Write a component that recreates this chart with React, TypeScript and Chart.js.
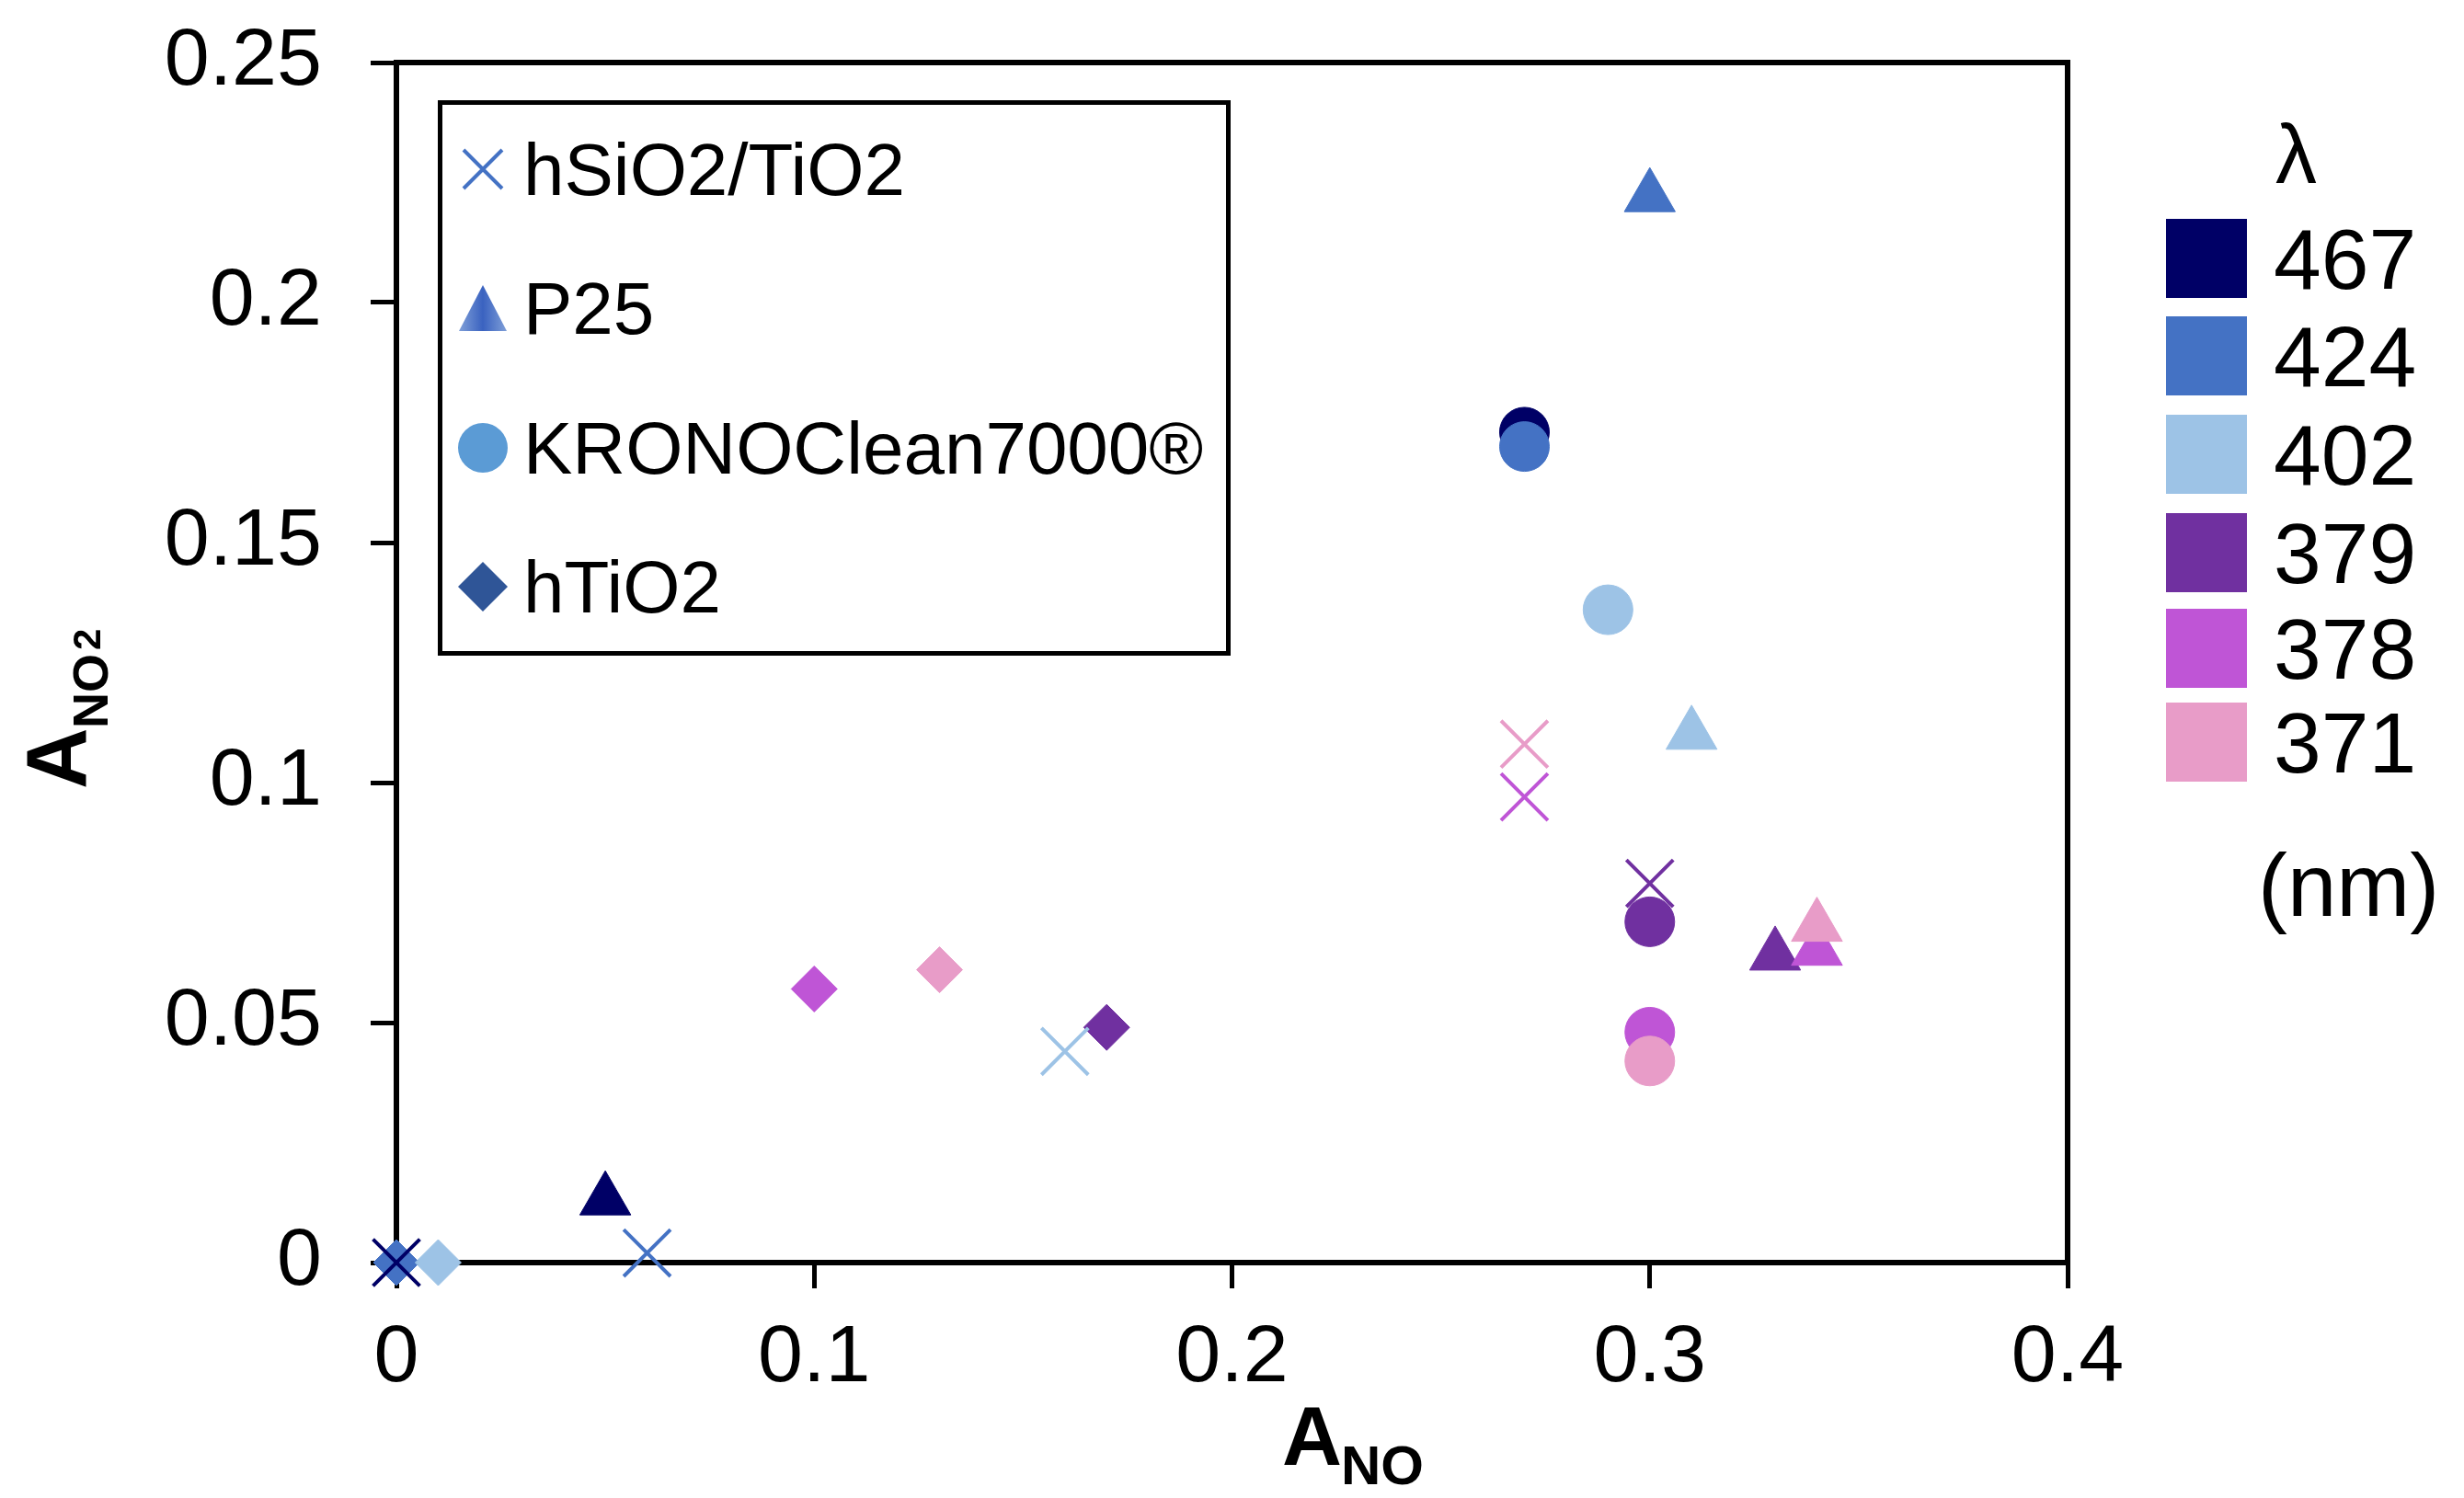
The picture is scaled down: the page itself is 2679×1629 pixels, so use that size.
import { useEffect, useRef } from "react";
import { Chart, registerables } from "chart.js";

Chart.register(...registerables);

const W = 2679;
const H = 1629;
const FONT = "'Liberation Sans', Arial, sans-serif";

// wavelengths (nm) and their colours
const wavelengths = ["467", "424", "402", "379", "378", "371"];
const wavelengthColors = ["#000066", "#4472c4", "#9dc3e6", "#7030a0", "#bf55d6", "#e89cc8"];

// materials, one value per wavelength in the order above
const materials = ["hSiO2/TiO2", "P25", "KRONOClean7000®", "hTiO2"];
const hSiO2TiO2X = [0, 0.06, 0.16, 0.3, 0.27, 0.27];
const hSiO2TiO2Y = [0, 0.002, 0.044, 0.079, 0.097, 0.108];
const p25X = [0.05, 0.3, 0.31, 0.33, 0.34, 0.34];
const p25Y = [0.013, 0.222, 0.11, 0.064, 0.065, 0.07];
const kronoX = [0.27, 0.27, 0.29, 0.3, 0.3, 0.3];
const kronoY = [0.173, 0.17, 0.136, 0.071, 0.048, 0.042];
const hTiO2X = [0, 0, 0.01, 0.17, 0.1, 0.13];
const hTiO2Y = [0, 0, 0, 0.049, 0.057, 0.061];

const xTicks = [0, 0.1, 0.2, 0.3, 0.4];
const yTicks = [0, 0.05, 0.1, 0.15, 0.2, 0.25];

const toPoints = (xs: number[], ys: number[]) => xs.map((x, i) => ({ x, y: ys[i] }));

const plotFrame = {
  id: "plotFrame",
  beforeDatasetsDraw(chart: any) {
    const { ctx, chartArea: a } = chart;
    ctx.save();
    ctx.strokeStyle = "#000";
    ctx.lineWidth = 6;
    ctx.beginPath();
    ctx.moveTo(a.left, a.top);
    ctx.lineTo(a.right, a.top);
    ctx.lineTo(a.right, a.bottom + 3);
    ctx.stroke();
    ctx.restore();
  },
};

function Text({ left, center, size, children, bold = false }: any) {
  return (
    <div
      style={{
        position: "absolute",
        left,
        top: center - 0.4885 * size,
        fontFamily: FONT,
        fontSize: size,
        lineHeight: `${size}px`,
        fontWeight: bold ? "bold" : "normal",
        whiteSpace: "nowrap",
        color: "#000",
      }}
    >
      {children}
    </div>
  );
}

const legendIcons = [
  <svg width="52" height="52">
    <path d="M5 5 L47 47 M47 5 L5 47" stroke="#4472c4" strokeWidth="4" />
  </svg>,
  <svg width="54" height="52">
    <defs>
      <linearGradient id="p25grad" x1="0" x2="1" y1="0" y2="0">
        <stop offset="0" stopColor="#7f9fd8" />
        <stop offset="0.5" stopColor="#3a62c0" />
        <stop offset="1" stopColor="#7f9fd8" />
      </linearGradient>
    </defs>
    <polygon points="27,1 53,51 1,51" fill="url(#p25grad)" />
  </svg>,
  <svg width="54" height="54">
    <circle cx="27" cy="27" r="27" fill="#5b9bd5" />
  </svg>,
  <svg width="54" height="54">
    <polygon points="27,0 54,27 27,54 0,27" fill="#2f5597" />
  </svg>,
];
const legendRows = [184, 335, 487, 638];
const lambdaRows = [281, 387, 494, 601, 705, 807];

export default function App() {
  const canvasRef = useRef<HTMLCanvasElement | null>(null);

  useEffect(() => {
    if (!canvasRef.current) {
      return;
    }

    const tickFont = { family: FONT, size: 88 };
    const grid = {
      drawOnChartArea: false,
      drawTicks: true,
      tickLength: 28,
      tickWidth: 5,
      tickColor: "#000",
      color: "#000",
    };

    const chart = new Chart(canvasRef.current, {
      type: "scatter",
      data: {
        datasets: [
          {
            label: materials[0],
            data: toPoints(hSiO2TiO2X, hSiO2TiO2Y),
            pointStyle: "crossRot",
            pointRadius: 36,
            pointBorderWidth: 4,
            pointBorderColor: wavelengthColors,
            pointBackgroundColor: wavelengthColors,
            clip: false,
          },
          {
            label: materials[1],
            data: toPoints(p25X, p25Y),
            pointStyle: "triangle",
            pointRadius: 32,
            pointBorderWidth: 1,
            pointBorderColor: wavelengthColors,
            pointBackgroundColor: wavelengthColors,
            clip: false,
          },
          {
            label: materials[2],
            data: toPoints(kronoX, kronoY),
            pointStyle: "circle",
            pointRadius: 27,
            pointBorderWidth: 1,
            pointBorderColor: wavelengthColors,
            pointBackgroundColor: wavelengthColors,
            clip: false,
          },
          {
            label: materials[3],
            data: toPoints(hTiO2X, hTiO2Y),
            pointStyle: "rectRot",
            pointRadius: 25,
            pointBorderWidth: 1,
            pointBorderColor: wavelengthColors,
            pointBackgroundColor: wavelengthColors,
            clip: false,
          },
        ],
      },
      options: {
        animation: false,
        responsive: false,
        devicePixelRatio: 1,
        layout: { padding: { top: 68, right: W - 2248, left: 0, bottom: 0 } },
        plugins: {
          legend: { display: false },
          tooltip: { enabled: false },
        },
        scales: {
          x: {
            type: "linear",
            min: 0,
            max: 0.4,
            afterFit: (scale: any) => {
              scale.height = H - 1373;
              scale.paddingLeft = 0;
              scale.paddingRight = 0;
            },
            afterBuildTicks: (scale: any) => {
              scale.ticks = xTicks.map((value) => ({ value }));
            },
            ticks: {
              font: tickFont,
              color: "#000",
              padding: 24,
              callback: (v: any) => String(v),
            },
            grid,
            border: { display: true, color: "#000", width: 6 },
          },
          y: {
            type: "linear",
            min: 0,
            max: 0.25,
            afterFit: (scale: any) => {
              scale.width = 431;
              scale.paddingTop = 0;
              scale.paddingBottom = 0;
            },
            afterBuildTicks: (scale: any) => {
              scale.ticks = yTicks.map((value) => ({ value }));
            },
            ticks: {
              font: tickFont,
              color: "#000",
              padding: 53,
              callback: (v: any) => String(v),
            },
            grid,
            border: { display: true, color: "#000", width: 6 },
          },
        },
      },
      plugins: [plotFrame],
    });

    return () => {
      chart.destroy();
    };
  }, []);

  return (
    <div
      style={{
        position: "fixed",
        left: 0,
        top: 0,
        width: W,
        height: H,
        background: "#fff",
        overflow: "hidden",
      }}
    >
      <canvas
        ref={canvasRef}
        width={W}
        height={H}
        style={{ position: "absolute", left: 0, top: 0, width: W, height: H }}
      ></canvas>

      {/* legend inside the plot */}
      <div
        style={{
          position: "absolute",
          left: 476,
          top: 109,
          width: 862,
          height: 604,
          border: "5px solid #000",
          boxSizing: "border-box",
          background: "#fff",
        }}
      ></div>
      {materials.map((m, i) => (
        <div key={m}>
          <div
            style={{
              position: "absolute",
              left: 525 - 27,
              top: legendRows[i] - 27,
              width: 54,
              height: 54,
              display: "flex",
              alignItems: "center",
              justifyContent: "center",
            }}
          >
            {legendIcons[i]}
          </div>
          <Text left={569} center={legendRows[i]} size={80}>
            {m}
          </Text>
        </div>
      ))}

      {/* wavelength key */}
      <Text left={2474} center={167} size={90}>
        λ
      </Text>
      {wavelengths.map((w, i) => (
        <div key={w}>
          <div
            style={{
              position: "absolute",
              left: 2355,
              top: lambdaRows[i] - 43,
              width: 88,
              height: 86,
              background: wavelengthColors[i],
            }}
          ></div>
          <Text left={2472} center={lambdaRows[i]} size={93}>
            {w}
          </Text>
        </div>
      ))}
      <Text left={2455} center={962} size={96}>
        (nm)
      </Text>

      {/* x axis title */}
      <div
        style={{
          position: "absolute",
          left: 1394,
          top: 1593 - 0.8465 * 90,
          fontFamily: FONT,
          fontSize: 90,
          lineHeight: "90px",
          fontWeight: "bold",
        }}
      >
        A
      </div>
      <div
        style={{
          position: "absolute",
          left: 1458,
          top: 1615 - 0.8465 * 60,
          fontFamily: FONT,
          fontSize: 60,
          lineHeight: "60px",
          fontWeight: "bold",
        }}
      >
        NO
      </div>

      {/* y axis title, rotated */}
      <div
        style={{
          position: "absolute",
          left: 93,
          top: 858,
          width: 0,
          height: 0,
          transform: "rotate(-90deg)",
          transformOrigin: "0 0",
          fontFamily: FONT,
          fontWeight: "bold",
          whiteSpace: "nowrap",
        }}
      >
        <div style={{ position: "absolute", left: 0, top: -0.8465 * 92, fontSize: 92, lineHeight: "92px" }}>A</div>
        <div style={{ position: "absolute", left: 66, top: 24 - 0.8465 * 54, fontSize: 54, lineHeight: "54px" }}>NO</div>
        <div style={{ position: "absolute", left: 151, top: 17 - 0.8465 * 42, fontSize: 42, lineHeight: "42px" }}>2</div>
      </div>
    </div>
  );
}
